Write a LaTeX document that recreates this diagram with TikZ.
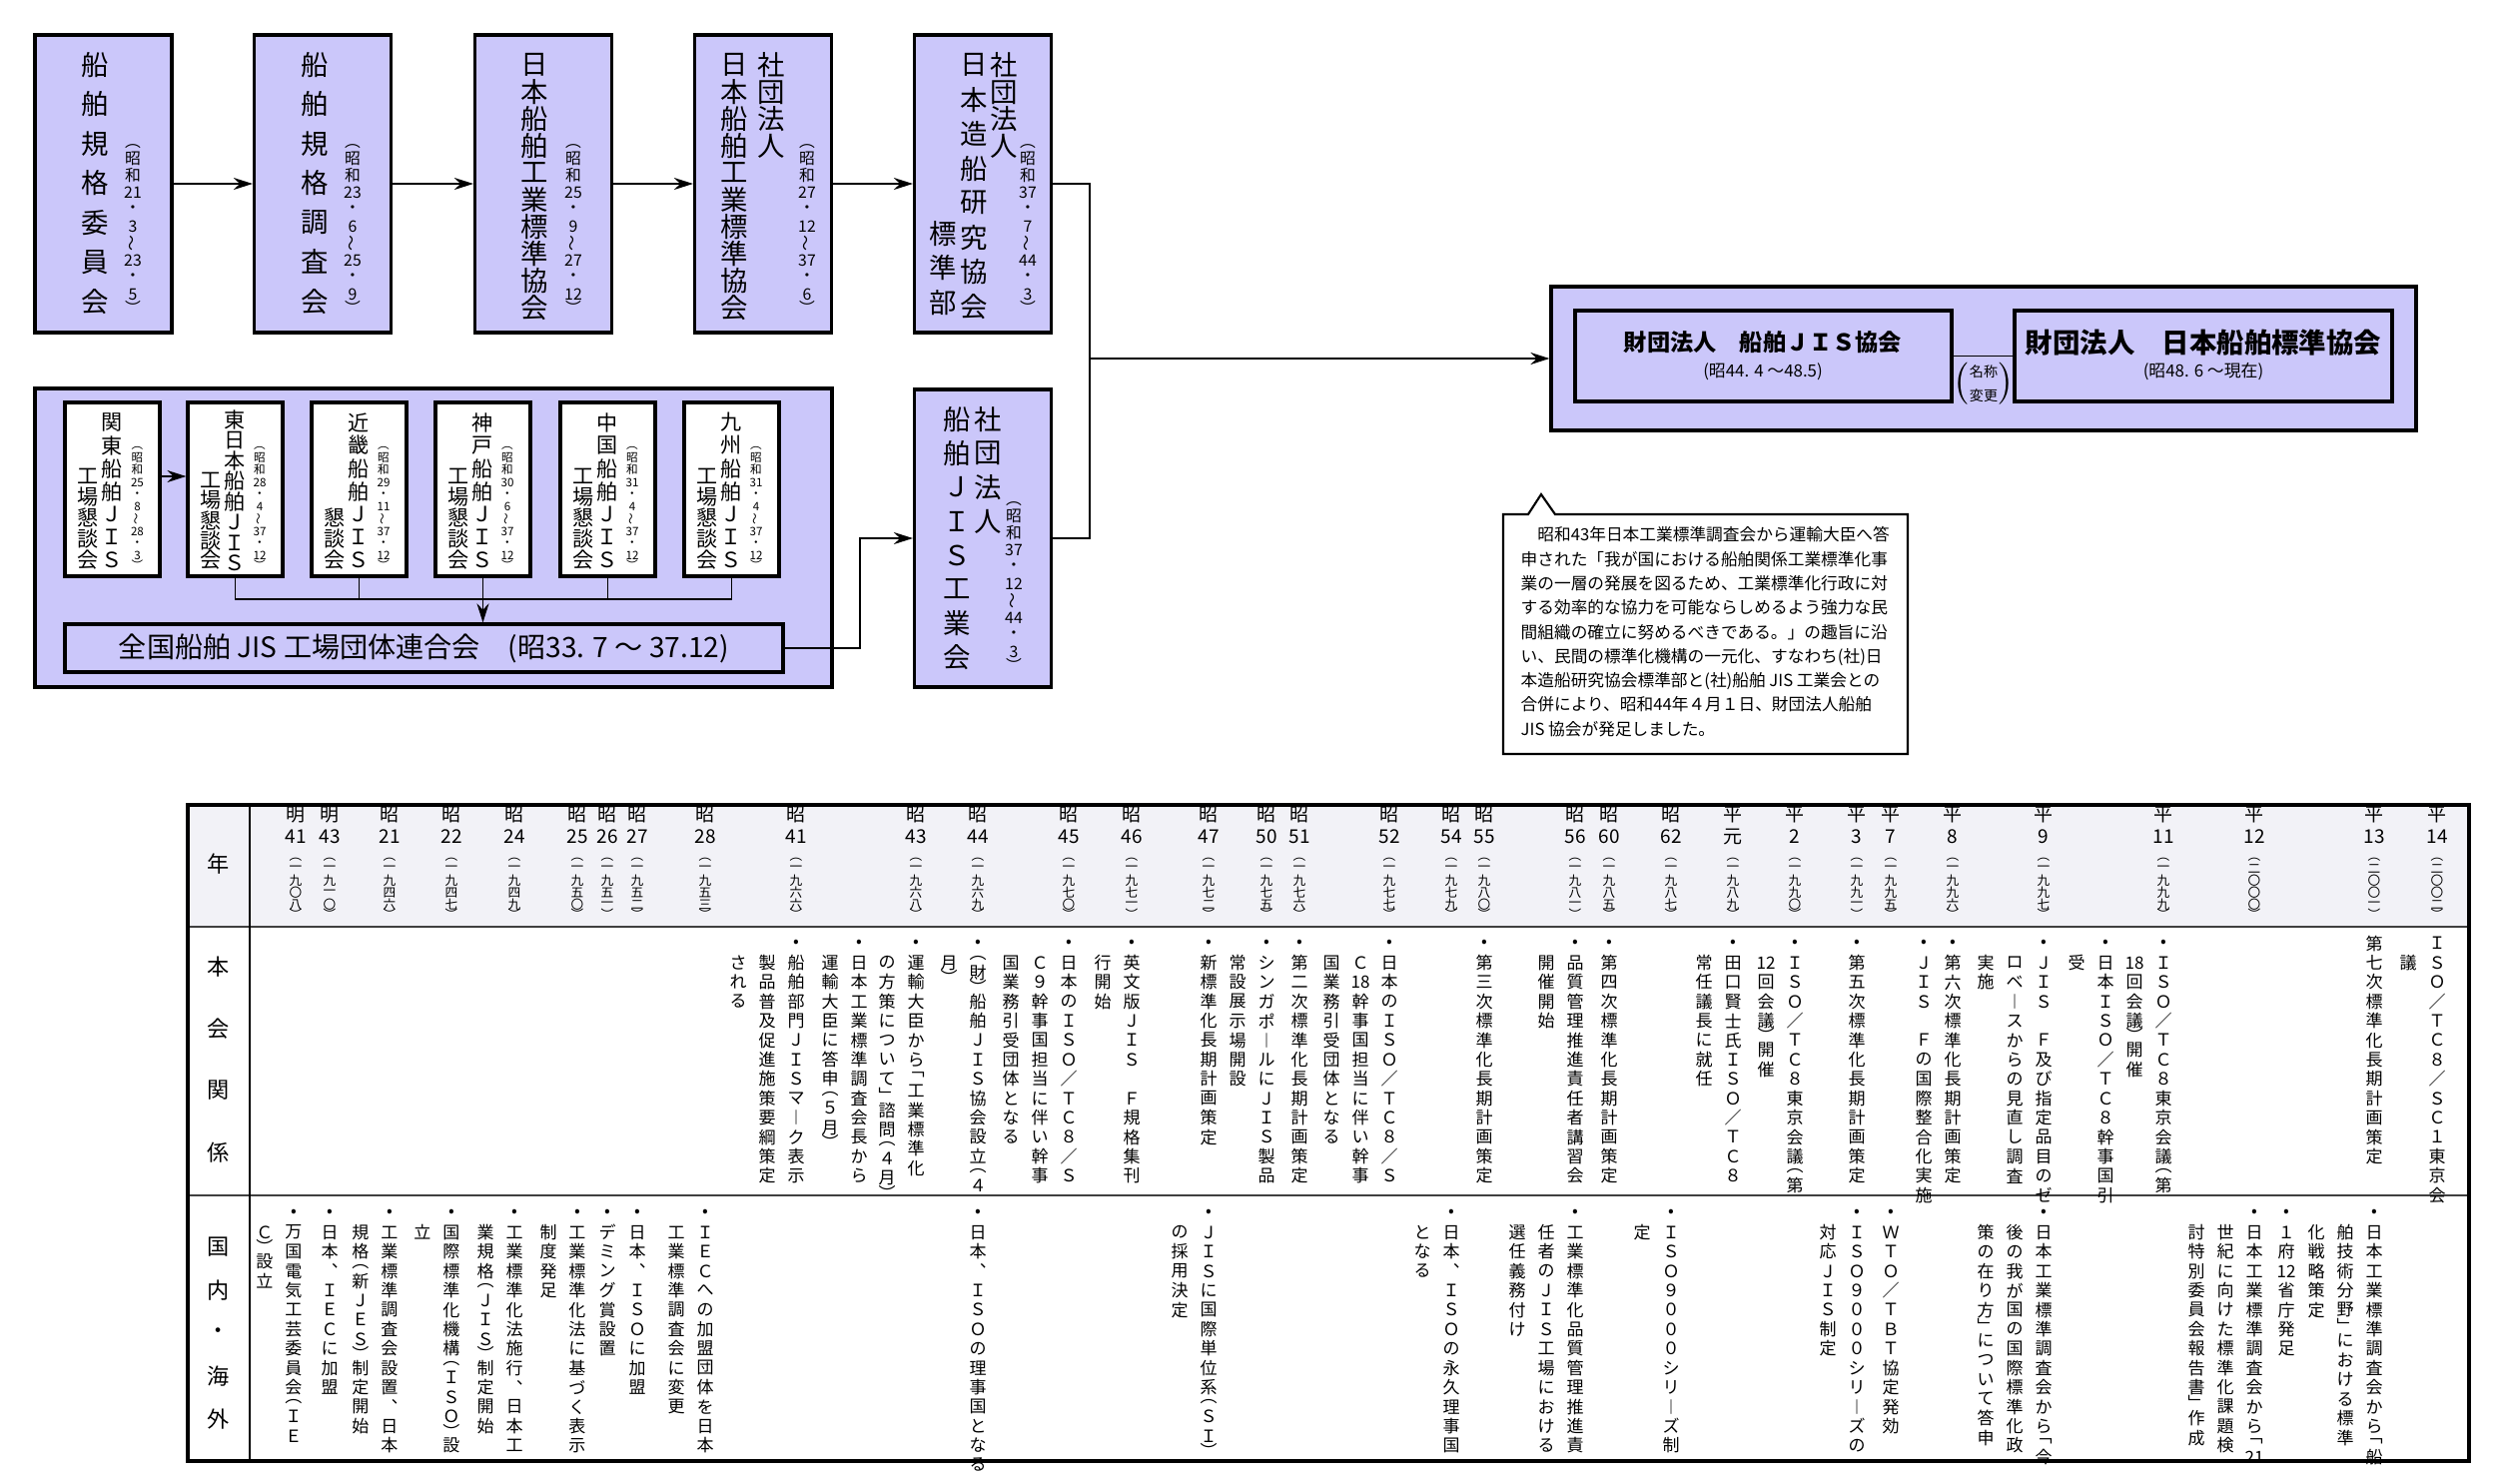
\documentclass[tikz,border=0pt]{standalone}
\usepackage{fontspec}
\setmainfont{Noto Sans CJK JP}
\usepackage{graphicx}
\usetikzlibrary{arrows.meta}
\definecolor{lav}{RGB}{203,199,250}
\definecolor{hdr}{RGB}{242,242,247}
\newdimen\vtp
\def\vtend{vtend}
\def\LP{︵}
\def\RP{︶}
\def\LB{﹁}
\def\RB{﹂}
\def\WV{\rotatebox[origin=c]{90}{〜}}
\newcommand\vtcell[2]{\hbox to 0pt{\hss\vbox to #1\vtp{\vss\hbox{#2}\vss}\hss}}
\def\vtloop#1{\ifx\vtend#1\else\ifx\LP#1\vtcell{0.5}{\LP}\else\ifx\RP#1\vtcell{0.5}{\RP}\else\ifx\LB#1\vtcell{0.6}{\LB}\else\ifx\RB#1\vtcell{0.6}{\RB}\else\vtcell{1}{#1}\fi\fi\fi\fi\expandafter\vtloop\fi}
\newcommand\vt[2]{\vtp=#1\relax\vbox{\offinterlineskip\vtloop#2\vtend}}
\newcounter{vtc}
\newcommand\vtn[5][]{\stepcounter{vtc}\node[vtx,#1] (v\arabic{vtc}) at (#2,#3) {\vt{#4}{#5}};}
\newcommand\eA[3]{\vtn[ftx]{#1}{#2}{1.94mm}{#3}}
\newcommand\eB[4]{\eA{#1}{#2}{#3}\eA{#1-29}{#2+19.4}{#4}}
\newcommand\eC[5]{\eB{#1}{#2}{#3}{#4}\eA{#1-58}{#2+19.4}{#5}}
\newcommand\yr[3]{\vtn[fyr]{#1}{805}{2.2mm}{#2}\vtn[fyk]{#1}{858}{1.2mm}{\LP #3\RP}}
\tikzset{
 lbox/.style={draw=black, line width=0.9pt, fill=lav, inner sep=0, minimum width=13.7mm, minimum height=29.8mm},
 sbox/.style={draw=black, line width=0.9pt, fill=white, inner sep=0, minimum width=9.5mm, minimum height=17.4mm},
 conn/.style={line width=0.55pt},
 arr/.style={conn, -{Stealth[length=1.9mm,width=1.2mm]}},
 vtx/.style={inner sep=0, outer sep=0, anchor=north},
 ftop/.style={font=\fontsize{7.8}{7.8}\selectfont},
 fdate/.style={font=\fontsize{4.5}{4.5}\selectfont},
 fsm/.style={font=\fontsize{6}{6}\selectfont},
 fsd/.style={font=\fontsize{3.3}{3.3}\selectfont},
 fzen/.style={font=\fontsize{8}{9}\selectfont},
 ft1/.style={font=\fontsize{6.6}{7}\selectfont\bfseries},
 ft2/.style={font=\fontsize{7.8}{8}\selectfont\bfseries},
 frd/.style={font=\fontsize{4.8}{5}\selectfont},
 fren/.style={font=\fontsize{4}{4.5}\selectfont},
 fnote/.style={font=\fontsize{4.75}{6.91}\selectfont},
 flab/.style={font=\fontsize{6.3}{6.3}\selectfont},
 fyr/.style={font=\fontsize{5.4}{5.4}\selectfont},
 fyk/.style={font=\fontsize{3.6}{3.6}\selectfont},
 ftx/.style={font=\fontsize{4.84}{4.84}\selectfont},
}
\begin{document}
\begin{tikzpicture}[x=0.1mm,y=-0.1mm]
\fill[white] (0,0) rectangle (2500,1485);
\useasboundingbox (0,0) rectangle (2500,1485);

% ---------- top row ----------
\node[lbox] (b1) at (103.5,184) {};
\node[lbox] (b2) at (323,184) {};
\node[lbox] (b3) at (544,184) {};
\node[lbox] (b4) at (764,184) {};
\node[lbox] (b5) at (984,184) {};
\draw[arr] (b1) -- (b2);
\draw[arr] (b2) -- (b3);
\draw[arr] (b3) -- (b4);
\draw[arr] (b4) -- (b5);

\vtn[ftop]{95}{45}{3.95mm}{船舶規格委員会}
\vtn[fdate]{133}{142}{1.7mm}{\LP 昭和{21}・3\WV {23}・5\RP}
\vtn[ftop]{315}{45}{3.95mm}{船舶規格調査会}
\vtn[fdate]{353}{142}{1.7mm}{\LP 昭和{23}・6\WV {25}・9\RP}
\vtn[ftop]{535}{51.5}{2.7mm}{日本船舶工業標準協会}
\vtn[fdate]{574}{142}{1.7mm}{\LP 昭和{25}・9\WV {27}・{12}\RP}
\vtn[ftop]{772}{52}{2.7mm}{社団法人}
\vtn[ftop]{735}{51.5}{2.7mm}{日本船舶工業標準協会}
\vtn[fdate]{808}{142}{1.7mm}{\LP 昭和{27}・{12}\WV {37}・6\RP}
\vtn[ftop]{1005}{52}{2.7mm}{社団法人}
\vtn[ftop]{975}{48}{3.45mm}{日本造船研究協会}
\vtn[ftop,anchor=south]{944}{320}{3.45mm}{標準部}
\vtn[fdate]{1029}{142}{1.7mm}{\LP 昭和{37}・7\WV {44}・3\RP}

% ---------- second row ----------
\node[lbox, minimum width=79.8mm, minimum height=29.9mm] (grp) at (434,538.5) {};
\node[sbox] (kanto) at (112.5,490) {};
\node[sbox] (higashi) at (235.5,490) {};
\node[sbox] (kinki) at (359.5,490) {};
\node[sbox] (kobe) at (483.5,490) {};
\node[sbox] (chugoku) at (608.5,490) {};
\node[sbox] (kyushu) at (732.5,490) {};
\node[lbox, minimum width=71.9mm, minimum height=4.8mm, fzen] (zen) at (424.5,649) {全国船舶 JIS 工場団体連合会　(昭33. 7 〜 37.12)};

\vtn[fsm]{112.5}{411.5}{2.3mm}{関東船舶ＪＩＳ}
\vtn[fsm,anchor=south]{88.5}{571}{2.1mm}{工場懇談会}
\vtn[fsd]{137.5}{446}{1.23mm}{\LP 昭和{25}・8\WV {28}・3\RP}
\vtn[fsm]{235.5}{410}{2.05mm}{東日本船舶ＪＩＳ}
\vtn[fsm,anchor=south]{211.5}{571}{2.0mm}{工場懇談会}
\vtn[fsd]{260}{446}{1.23mm}{\LP 昭和{28}・4\WV {37}・{12}\RP}
\vtn[fsm]{359.5}{411.5}{2.3mm}{近畿船舶ＪＩＳ}
\vtn[fsm,anchor=south]{335.5}{571}{2.1mm}{懇談会}
\vtn[fsd]{384}{446}{1.23mm}{\LP 昭和{29}・{11}\WV {37}・{12}\RP}
\vtn[fsm]{483.5}{411.5}{2.3mm}{神戸船舶ＪＩＳ}
\vtn[fsm,anchor=south]{459.5}{571}{2.1mm}{工場懇談会}
\vtn[fsd]{508}{446}{1.23mm}{\LP 昭和{30}・6\WV {37}・{12}\RP}
\vtn[fsm]{608.5}{411.5}{2.3mm}{中国船舶ＪＩＳ}
\vtn[fsm,anchor=south]{584.5}{571}{2.1mm}{工場懇談会}
\vtn[fsd]{633}{446}{1.23mm}{\LP 昭和{31}・4\WV {37}・{12}\RP}
\vtn[fsm]{732.5}{411.5}{2.3mm}{九州船舶ＪＩＳ}
\vtn[fsm,anchor=south]{708.5}{571}{2.1mm}{工場懇談会}
\vtn[fsd]{757}{446}{1.23mm}{\LP 昭和{31}・4\WV {37}・{12}\RP}

\coordinate (ya) at (0,477);
\coordinate (hl) at (0,600);
\draw[arr] (kanto.east |- ya) -- (higashi.west |- ya);
\draw[conn] (higashi.south) -- (higashi.south |- hl) -- (kyushu.south |- hl) -- (kyushu.south);
\draw[conn] (kinki.south) -- (kinki.south |- hl);
\draw[conn] (chugoku.south) -- (chugoku.south |- hl);
\draw[arr] (kobe.south) -- (zen.north -| kobe.south);

% ---------- box 6 ----------
\node[lbox] (b6) at (984,539) {};
\vtn[ftop]{989}{403}{3.4mm}{社団法人}
\vtn[ftop]{958}{403}{3.4mm}{船舶ＪＩＳ工業会}
\vtn[fdate]{1015}{500}{1.7mm}{\LP 昭和{37}・{12}\WV {44}・3\RP}
\coordinate (k1) at (861,539);
\draw[arr] (zen.east) -| (k1) -- (b6.west);

% ---------- right box ----------
\node[lbox, minimum width=86.6mm, minimum height=14.4mm] (zai) at (1986,359) {};
\node[lbox, minimum width=37.7mm, minimum height=9.1mm] (sj) at (1765.5,356.5) {};
\node[lbox, minimum width=37.8mm, minimum height=9.1mm] (ns) at (2206,356.5) {};
\draw[conn] (sj.east) -- (ns.west);
\node[ft1, inner sep=0] (sjt) at (1765,343) {財団法人　船舶ＪＩＳ協会};
\node[frd, inner sep=0] (sjd) at (1765,372) {(昭44. 4 〜48.5)};
\node[ft2, inner sep=0] (nst) at (2206,343) {財団法人　日本船舶標準協会};
\node[frd, inner sep=0] (nsd) at (2206,372) {(昭48. 6 〜現在)};
\node[fren, inner sep=0] (ren) at (1986,384) {$\left(\vcenter{\hbox{\shortstack{名称\\変更}}}\right)$};

\coordinate (jn) at (1091,359);
\draw[conn] (b5.east) -| (jn) |- (b6.east);
\draw[arr] (jn) -- (zai.west);

% ---------- note ----------
\draw[line width=0.6pt, fill=white] (1505,515) -- (1530,515) -- (1543,495) -- (1557,515) -- (1910,515) -- (1910,755) -- (1505,755) -- cycle;
\node[fnote, anchor=north west, align=left, inner sep=0] (note) at (1522,527) {%
　昭和43年日本工業標準調査会から運輸大臣へ答\\
申された「我が国における船舶関係工業標準化事\\
業の一層の発展を図るため、工業標準化行政に対\\
する効率的な協力を可能ならしめるよう強力な民\\
間組織の確立に努めるべきである。」の趣旨に沿\\
い、民間の標準化機構の一元化、すなわち(社)日\\
本造船研究協会標準部と(社)船舶 JIS 工業会との\\
合併により、昭和44年４月１日、財団法人船舶\\
JIS 協会が発足しました。};

% ---------- table ----------
\fill[hdr] (188,806) rectangle (2472,928);
\draw[line width=0.5pt, black!75] (188,928) -- (2472,928);
\draw[line width=0.5pt, black!75] (188,1197) -- (2472,1197);
\draw[line width=0.8pt] (250,806) -- (250,1463);
\draw[line width=1pt] (188,806) rectangle (2472,1463);

\node[flab, inner sep=0] (lab1) at (219,865) {年};
\vtn[flab]{219}{937}{6.2mm}{本会関係}
\vtn[flab]{219}{1227.5}{4.3mm}{国内・海外}

\yr{296}{明{41}}{一九〇八}
\yr{330}{明{43}}{一九一〇}
\yr{390}{昭{21}}{一九四六}
\yr{452}{昭{22}}{一九四七}
\yr{515}{昭{24}}{一九四九}
\yr{578}{昭{25}}{一九五〇}
\yr{608}{昭{26}}{一九五一}
\yr{638}{昭{27}}{一九五二}
\yr{706}{昭{28}}{一九五三}
\yr{797}{昭{41}}{一九六六}
\yr{917}{昭{43}}{一九六八}
\yr{979}{昭{44}}{一九六九}
\yr{1070}{昭{45}}{一九七〇}
\yr{1133}{昭{46}}{一九七一}
\yr{1210}{昭{47}}{一九七二}
\yr{1268}{昭{50}}{一九七五}
\yr{1301}{昭{51}}{一九七六}
\yr{1391}{昭{52}}{一九七七}
\yr{1453}{昭{54}}{一九七九}
\yr{1486}{昭{55}}{一九八〇}
\yr{1577}{昭{56}}{一九八一}
\yr{1611}{昭{60}}{一九八五}
\yr{1673}{昭{62}}{一九八七}
\yr{1735}{平元}{一九八九}
\yr{1797}{平2}{一九九〇}
\yr{1859}{平3}{一九九一}
\yr{1893}{平7}{一九九五}
\yr{1955}{平8}{一九九六}
\yr{2046}{平9}{一九九七}
\yr{2166}{平{11}}{一九九九}
\yr{2257}{平{12}}{二〇〇〇}
\yr{2377}{平{13}}{二〇〇一}
\yr{2440}{平{14}}{二〇〇二}

% row: 本会関係
\eC{797}{935}{•船舶部門ＪＩＳマ︱ク表示}{製品普及促進施策要綱策定}{される}
\eB{917}{935}{•運輸大臣から\LB 工業標準化}{の方策について\RB 諮問\LP ４月\RP}
\eB{860}{935}{•日本工業標準調査会長から}{運輸大臣に答申\LP ５月\RP}
\eB{979}{935}{•\LP 財\RP 船舶ＪＩＳ協会設立\LP ４}{月\RP}
\eC{1070}{935}{•日本のＩＳＯ／ＴＣ８／Ｓ}{Ｃ９幹事国担当に伴い幹事}{国業務引受団体となる}
\eB{1133}{935}{•英文版ＪＩＳ　Ｆ規格集刊}{行開始}
\eA{1210}{935}{•新標準化長期計画策定}
\eB{1268}{935}{•シンガポ︱ルにＪＩＳ製品}{常設展示場開設}
\eA{1301}{935}{•第二次標準化長期計画策定}
\eC{1391}{935}{•日本のＩＳＯ／ＴＣ８／Ｓ}{Ｃ{18}幹事国担当に伴い幹事}{国業務引受団体となる}
\eA{1486}{935}{•第三次標準化長期計画策定}
\eB{1577}{935}{•品質管理推進責任者講習会}{開催開始}
\eA{1611}{935}{•第四次標準化長期計画策定}
\eB{1735}{935}{•田口賢士氏ＩＳＯ／ＴＣ８}{常任議長に就任}
\eB{1797}{935}{•ＩＳＯ／ＴＣ８東京会議\LP 第}{{12}回会議\RP 開催}
\eA{1859}{935}{•第五次標準化長期計画策定}
\eA{1955}{935}{•第六次標準化長期計画策定}
\eA{1926}{935}{•ＪＩＳ　Ｆの国際整合化実施}
\eC{2046}{935}{•ＪＩＳ　Ｆ及び指定品目のゼ}{ロベ︱スからの見直し調査}{実施}
\eB{2166}{935}{•ＩＳＯ／ＴＣ８東京会議\LP 第}{{18}回会議\RP 開催}
\eB{2108}{935}{•日本ＩＳＯ／ＴＣ８幹事国引}{受}
\eA{2377}{935}{第七次標準化長期計画策定}
\eB{2440}{935}{ＩＳＯ／ＴＣ８／ＳＣ１東京会}{議}

% row: 国内・海外
\eB{294}{1205}{•万国電気工芸委員会\LP ＩＥ}{Ｃ\RP 設立}
\eA{330}{1205}{•日本︑ＩＥＣに加盟}
\eB{390}{1205}{•工業標準調査会設置︑日本}{規格\LP 新ＪＥＳ\RP 制定開始}
\eB{452}{1205}{•国際標準化機構\LP ＩＳＯ\RP 設}{立}
\eB{515}{1205}{•工業標準化法施行︑日本工}{業規格\LP ＪＩＳ\RP 制定開始}
\eB{578}{1205}{•工業標準化法に基づく表示}{制度発足}
\eA{608}{1205}{•デミング賞設置}
\eA{638}{1205}{•日本︑ＩＳＯに加盟}
\eB{706}{1205}{•ＩＥＣへの加盟団体を日本}{工業標準調査会に変更}
\eA{979}{1205}{•日本︑ＩＳＯの理事国となる}
\eB{1210}{1205}{•ＪＩＳに国際単位系\LP ＳＩ\RP}{の採用決定}
\eB{1453}{1205}{•日本︑ＩＳＯの永久理事国}{となる}
\eC{1577}{1205}{•工業標準化品質管理推進責}{任者のＪＩＳ工場における}{選任義務付け}
\eB{1673}{1205}{•ＩＳＯ９０００シリ︱ズ制}{定}
\eB{1859}{1205}{•ＩＳＯ９０００シリ︱ズの}{対応ＪＩＳ制定}
\eA{1893}{1205}{•ＷＴＯ／ＴＢＴ協定発効}
\eC{2046}{1205}{•日本工業標準調査会から\LB 今}{後の我が国の国際標準化政}{策の在り方\RB について答申}
\eC{2257}{1205}{•日本工業標準調査会から\LB {21}}{世紀に向けた標準化課題検}{討特別委員会報告書\RB 作成}
\eA{2289}{1205}{•１府{12}省庁発足}
\eC{2377}{1205}{•日本工業標準調査会から\LB 船}{舶技術分野\RB における標準}{化戦略策定}
\end{tikzpicture}
\end{document}
